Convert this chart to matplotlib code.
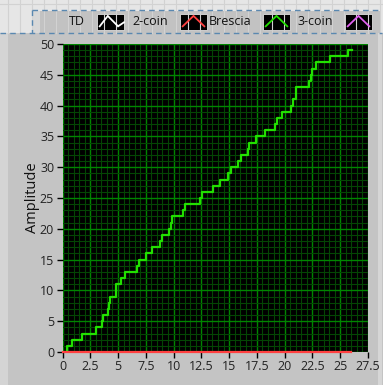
import numpy as np
import matplotlib
matplotlib.use("Agg")
import matplotlib.pyplot as plt
from matplotlib.patches import Rectangle
from matplotlib.ticker import MultipleLocator, FuncFormatter

# ---- data ----
series_names = ["TD", "2-coin", "Brescia", "3-coin"]
series_colors = ["#ffffff", "#ff4040", "#22e000", "#e060f0"]

# Brescia: step curve (x of each step, level after the step)
brescia_x = [0.4, 0.4, 0.85, 1.75, 3.0, 3.6, 3.65, 4.1, 4.2, 4.3, 4.8, 4.85, 5.3,
             5.65, 6.7, 6.9, 7.5, 8.05, 8.8, 8.95, 9.55, 9.75, 9.85, 10.85,
             11.05, 12.4, 12.6, 13.55, 14.15, 14.9, 15.2, 15.8, 16.1, 16.7,
             16.75, 17.45, 18.25, 19.15, 19.3, 19.76, 20.6, 20.75, 21.0, 21.05,
             22.15, 22.4, 22.5, 22.85, 24.05, 25.7, 26.05]
brescia_y = [0, 1, 2, 3, 4, 5, 6, 7, 8, 9, 10, 11, 12,
             13, 14, 15, 16, 17, 18, 19, 20, 21, 22, 23,
             24, 25, 26, 27, 28, 29, 30, 31, 32, 33,
             34, 35, 36, 37, 38, 39, 40, 41, 42, 43,
             44, 45, 46, 47, 48, 49, 49]

# 2-coin: flat at zero
coin2_x = [0.0, 26.0]
coin2_y = [0, 0]

x_ticks = [0, 2.5, 5, 7.5, 10, 12.5, 15, 17.5, 20, 22.5, 25, 27.5]
y_ticks = [0, 5, 10, 15, 20, 25, 30, 35, 40, 45, 50]

W, H = 383, 385
fig = plt.figure(figsize=(W / 100, H / 100), dpi=100)
fig.patch.set_facecolor("#c4c4c4")
FONT = "Open Sans"

# ---- decoration overlay in pixel coords ----
bg = fig.add_axes([0, 0, 1, 1], zorder=0)
bg.set_xlim(0, W)
bg.set_ylim(H, 0)
bg.axis("off")
bg.add_patch(Rectangle((0, 0), W, 33, facecolor="#e6e6e6", edgecolor="none"))
for gx in range(-4, W, 12):
    bg.plot([gx, gx], [0, 33], color="#d2d2d2", lw=0.8)
bg.plot([0, W], [4, 4], color="#d2d2d2", lw=0.8)
bg.add_patch(Rectangle((0, 33), 8, H - 33, facecolor="#d4d4d4", edgecolor="none"))
bg.add_patch(Rectangle((378, 33), 4, H - 33, facecolor="#d6d6d6", edgecolor="none"))
# legend box
bg.add_patch(Rectangle((32, 11), 348, 22, facecolor="#c2c2c2", edgecolor="none"))
bg.add_patch(Rectangle((32, 11), 8, 22, facecolor="#d8d8d8", edgecolor="none"))
# dashed selection outline
bg.plot([32, 382], [10, 10], color="#5a88b0", lw=1, ls=(0, (4, 3)))
bg.plot([0, 382], [33, 33], color="#5a88b0", lw=1, ls=(0, (4, 3)))
bg.plot([32, 32], [10, 33], color="#5a88b0", lw=1, ls=(0, (4, 3)))

# legend entries
text_right = [85, 168, 251, 333]
icon_left = [97, 180, 263, 345]
icon_shapes = [
    ([0.1, 0.4, 0.78, 1.0], [0.8, 0.15, 0.8, 0.55]),
    ([0.1, 0.5, 0.9], [0.8, 0.15, 0.8]),
    ([0.1, 0.5, 0.9], [0.8, 0.15, 0.8]),
    ([0.1, 0.5, 0.9], [0.8, 0.15, 0.8]),
]
for name, col, tr, il, (sx, sy) in zip(series_names, series_colors, text_right,
                                       icon_left, icon_shapes):
    bg.text(tr, 21.5, name, ha="right", va="center", fontsize=9,
            family=FONT, color="#111111")
    bg.add_patch(Rectangle((il, 13.5), 27, 16, facecolor="black",
                           edgecolor="#e0e0e0", lw=0.6))
    bg.plot([il + 27 * v for v in sx], [13.5 + 16 * v for v in sy],
            color=col, lw=1.3, solid_joinstyle="miter")

# ---- main plot ----
ax = fig.add_axes([62.5 / W, (H - 352) / H, (368 - 62.5) / W, (352 - 44) / H],
                  zorder=2)
ax.set_facecolor("black")
ax.set_xlim(0, 27.5)
ax.set_ylim(0, 50)
ax.xaxis.set_minor_locator(MultipleLocator(0.5))
ax.yaxis.set_minor_locator(MultipleLocator(1))
ax.set_xticks(x_ticks)
ax.set_yticks(y_ticks)
ax.xaxis.set_major_formatter(FuncFormatter(lambda v, p: f"{v:g}"))
ax.grid(which="minor", color="#044604", lw=0.8)
ax.grid(which="major", color="#008600", lw=1.0)
ax.set_axisbelow(True)
ax.tick_params(which="minor", length=0)
ax.tick_params(which="major", direction="out", length=4, width=1,
               color="black", labelsize=9, labelcolor="#222222", pad=2)
for lab in ax.get_xticklabels() + ax.get_yticklabels():
    lab.set_family(FONT)
for s in ax.spines.values():
    s.set_visible(False)

ax.step(brescia_x, brescia_y, where="post", color=series_colors[2], lw=1.6,
        zorder=3)
ax.plot(coin2_x, coin2_y, color=series_colors[1], lw=1.6, zorder=4,
        clip_on=False)

ax.set_ylabel("Amplitude", family=FONT, fontsize=10.5, color="#111111",
              labelpad=0)

fig.savefig("out.png", dpi=100, facecolor=fig.get_facecolor())
